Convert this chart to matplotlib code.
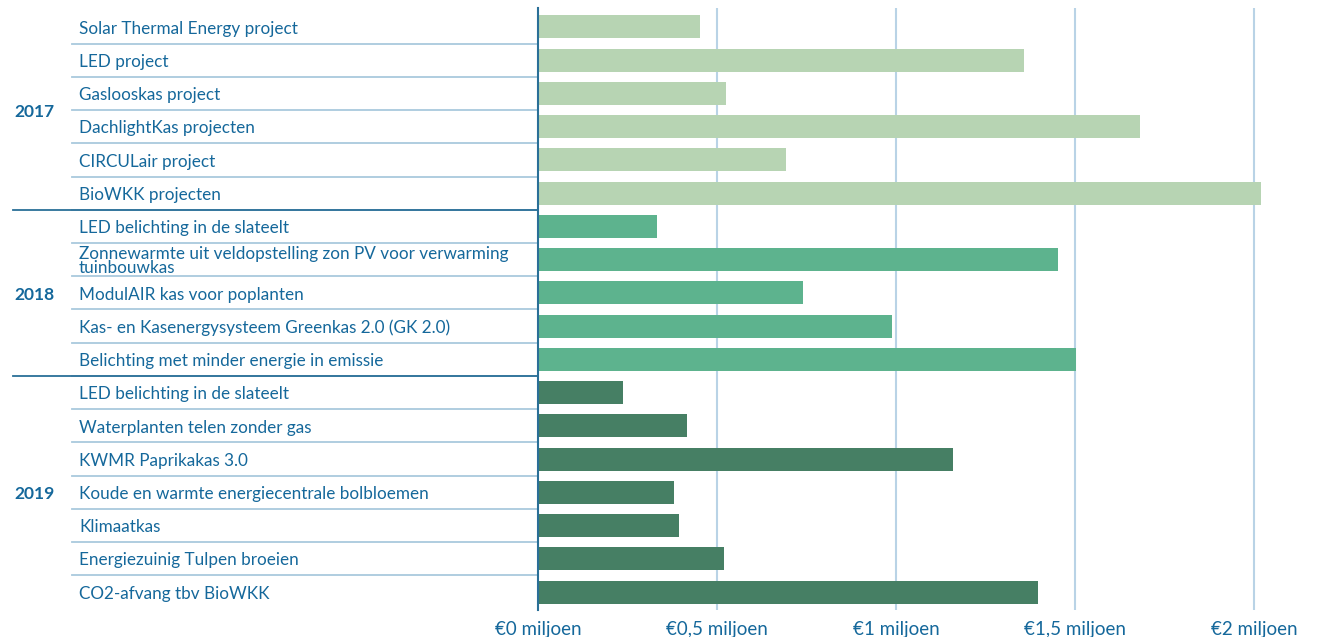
import matplotlib
matplotlib.use("Agg")
import matplotlib.pyplot as plt
import matplotlib.transforms as mtransforms

plt.rcParams['font.family'] = ['Lato', 'DejaVu Sans']

years = ["2017", "2018", "2019"]
projects_2017 = ["Solar Thermal Energy project", "LED project", "Gaslooskas project",
                 "DachlightKas projecten", "CIRCULair project", "BioWKK projecten"]
values_2017 = [0.452, 1.357, 0.525, 1.682, 0.693, 2.020]
projects_2018 = ["LED belichting in de slateelt",
                 "Zonnewarmte uit veldopstelling zon PV voor verwarming\ntuinbouwkas",
                 "ModulAIR kas voor poplanten",
                 "Kas- en Kasenergysysteem Greenkas 2.0 (GK 2.0)",
                 "Belichting met minder energie in emissie"]
values_2018 = [0.332, 1.452, 0.740, 0.989, 1.503]
projects_2019 = ["LED belichting in de slateelt", "Waterplanten telen zonder gas",
                 "KWMR Paprikakas 3.0", "Koude en warmte energiecentrale bolbloemen",
                 "Klimaatkas", "Energiezuinig Tulpen broeien", "CO2-afvang tbv BioWKK"]
values_2019 = [0.237, 0.416, 1.159, 0.380, 0.394, 0.520, 1.397]
tick_values = [0, 0.5, 1, 1.5, 2]
tick_labels = ["€0 miljoen", "€0,5 miljoen", "€1 miljoen", "€1,5 miljoen", "€2 miljoen"]

colors = ["#b7d4b3", "#5db38e", "#467f64"]
text_color = "#15689b"
grid_color = "#b9d3e6"
sep_color = "#a9c9dd"

groups = [(projects_2017, values_2017), (projects_2018, values_2018), (projects_2019, values_2019)]

W, H = 1322, 637
fig = plt.figure(figsize=(W / 100, H / 100), dpi=100)
ax = fig.add_axes([538 / W, (H - 610) / H, (W - 538) / W, (610 - 8) / H])

trans = mtransforms.blended_transform_factory(fig.transFigure, ax.transData)

row = 0
group_bounds = []
for gi, (labels, vals) in enumerate(groups):
    start = row
    for lab, v in zip(labels, vals):
        ax.barh(row, v, height=0.69, color=colors[gi], zorder=3)
        ls = 0.85 if "\n" in lab else 1.2
        ax.text(79 / W, row + 0.05, lab, transform=trans, ha='left', va='center',
                fontsize=12.3, color=text_color, linespacing=ls)
        row += 1
    group_bounds.append((start, row - 1))

n = row
for i in range(n - 1):
    ax.plot([72 / W, 538 / W], [i + 0.5, i + 0.5], transform=trans, color=sep_color,
            lw=1.3, clip_on=False, zorder=1)

for gi, (s, e) in enumerate(group_bounds):
    ax.text(14 / W, (s + e) / 2 + 0.05, years[gi], transform=trans, ha='left', va='center',
            fontsize=12.5, fontweight='bold', color=text_color)
    if gi < len(group_bounds) - 1:
        ax.plot([13 / W, 538 / W], [e + 0.5, e + 0.5], transform=trans, color="#2a6f97",
                lw=1.3, clip_on=False, zorder=2)

ax.set_ylim(n - 1 + 0.54, -0.57)
ax.set_xlim(0, (W - 538) / 358)
ax.set_xticks(tick_values)
ax.set_xticklabels(tick_labels, fontsize=13.5, color=text_color)
ax.tick_params(axis='x', length=0, pad=8)
ax.set_yticks([])
for x in tick_values[1:]:
    ax.axvline(x, color=grid_color, lw=1.5, zorder=1)
for sp in ['top', 'right', 'bottom']:
    ax.spines[sp].set_visible(False)
ax.spines['left'].set_color("#2a6f97")
ax.spines['left'].set_linewidth(1.5)
ax.spines['left'].set_zorder(4)
ax.patch.set_alpha(0)

fig.savefig("out.png", dpi=100)
